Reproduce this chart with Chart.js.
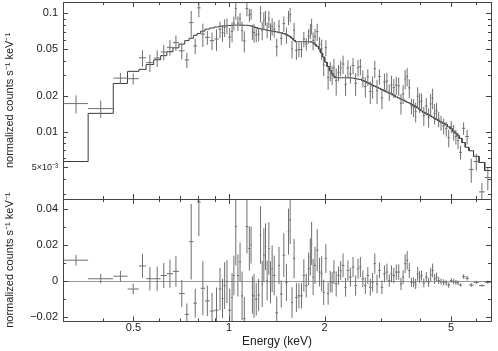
<!DOCTYPE html>
<html>
<head>
<meta charset="utf-8">
<script src="https://cdn.jsdelivr.net/npm/chart.js@4.4.1/dist/chart.umd.min.js"></script>
<style>
  body { margin: 0; background: #fff; }
  #wrap { position: relative; width: 498px; height: 351px; }
  #specCanvas { position: absolute; left: 0; top: 0; }
  #residCanvas { position: absolute; left: 0; top: 180px; }
</style>
</head>
<body>
<div id="wrap">
  <canvas id="specCanvas" width="498" height="200"></canvas>
  <canvas id="residCanvas" width="498" height="171"></canvas>
</div>
<script>
// channel grouping (keV), one more edge than bins
const binEdges = [
  0.302, 0.360, 0.432, 0.479, 0.520, 0.548, 0.579, 0.609, 0.637, 0.666,
  0.695, 0.725, 0.748, 0.772, 0.793, 0.814, 0.840, 0.869, 0.899, 0.927,
  0.946, 0.961, 0.976, 0.994, 1.015, 1.029, 1.042, 1.058, 1.075, 1.091,
  1.107, 1.127, 1.150, 1.167, 1.179, 1.190, 1.207, 1.229, 1.249, 1.264,
  1.279, 1.295, 1.310, 1.326, 1.343, 1.358, 1.375, 1.400, 1.426, 1.447,
  1.473, 1.502, 1.530, 1.548, 1.567, 1.590, 1.615, 1.644, 1.675, 1.706,
  1.734, 1.766, 1.794, 1.811, 1.828, 1.851, 1.878, 1.912, 1.943, 1.971,
  2.001, 2.034, 2.068, 2.098, 2.124, 2.155, 2.194, 2.229, 2.263, 2.308,
  2.347, 2.388, 2.433, 2.481, 2.526, 2.569, 2.614, 2.662, 2.710, 2.760,
  2.810, 2.853, 2.900, 2.948, 3.002, 3.057, 3.113, 3.169, 3.221, 3.272,
  3.332, 3.393, 3.450, 3.506, 3.560, 3.611, 3.664, 3.723, 3.783, 3.841,
  3.897, 3.954, 4.008, 4.067, 4.142, 4.217, 4.282, 4.344, 4.406, 4.470,
  4.535, 4.608, 4.693, 4.786, 4.872, 4.962, 5.053, 5.137, 5.220, 5.300,
  5.412, 5.543, 5.693, 5.886, 6.125, 6.383, 6.676
];

// folded model, counts s-1 keV-1
const model = [
  0.0056, 0.0143, 0.0256, 0.0324, 0.0337, 0.0370, 0.0406, 0.0440, 0.0475, 0.0512,
  0.0551, 0.0589, 0.0617, 0.0654, 0.0676, 0.0709, 0.0737, 0.0754, 0.0769, 0.0778,
  0.0783, 0.0786, 0.0789, 0.0792, 0.0795, 0.0797, 0.0797, 0.0797, 0.0797, 0.0797,
  0.0795, 0.0794, 0.0789, 0.0784, 0.0778, 0.0771, 0.0759, 0.0747, 0.0741, 0.0737,
  0.0732, 0.0728, 0.0723, 0.0718, 0.0714, 0.0710, 0.0705, 0.0698, 0.0692, 0.0687,
  0.0676, 0.0663, 0.0648, 0.0637, 0.0619, 0.0595, 0.0576, 0.0576, 0.0576, 0.0576,
  0.0576, 0.0576, 0.0576, 0.0573, 0.0566, 0.0550, 0.0529, 0.0500, 0.0463, 0.0428,
  0.0388, 0.0356, 0.0329, 0.0311, 0.0296, 0.0287, 0.0286, 0.0286, 0.0286, 0.0286,
  0.0286, 0.0285, 0.0284, 0.0281, 0.0279, 0.0277, 0.0271, 0.0265, 0.0259, 0.0253,
  0.0248, 0.0243, 0.0238, 0.0233, 0.0227, 0.0222, 0.0217, 0.0212, 0.0209, 0.0204,
  0.0197, 0.0193, 0.0189, 0.0186, 0.0182, 0.0178, 0.0175, 0.0171, 0.0167, 0.0163,
  0.0159, 0.0155, 0.0150, 0.0146, 0.0142, 0.0139, 0.0136, 0.0133, 0.0130, 0.0127,
  0.0124, 0.0121, 0.0118, 0.0115, 0.0110, 0.0106, 0.0101, 0.0097, 0.0093, 0.0088,
  0.0081, 0.0074, 0.0069, 0.0062, 0.0055, 0.0047
];

// observed rate
const rate = [
  0.0173, 0.0157, 0.0284, 0.0281, 0.0422, 0.0384, 0.0420, 0.0472, 0.0517, 0.0567,
  0.0483, 0.0405, 0.0837, 0.0532, 0.1116, 0.0670, 0.0628, 0.0589, 0.0608, 0.0735,
  0.0687, 0.0762, 0.0787, 0.0631, 0.0705, 0.0829, 0.1101, 0.0829, 0.0904, 0.0716,
  0.0587, 0.1098, 0.0971, 0.0985, 0.0701, 0.0690, 0.0659, 0.0670, 0.0998, 0.0722,
  0.0877, 0.0920, 0.0727, 0.0900, 0.0708, 0.0779, 0.0737, 0.0523, 0.0780, 0.0616,
  0.0821, 0.0657, 0.0924, 0.0979, 0.0501, 0.0721, 0.0486, 0.0495, 0.0495, 0.0608,
  0.0552, 0.0645, 0.0711, 0.0783, 0.0589, 0.0638, 0.0702, 0.0551, 0.0504, 0.0366,
  0.0514, 0.0288, 0.0327, 0.0305, 0.0347, 0.0272, 0.0318, 0.0346, 0.0374, 0.0252,
  0.0346, 0.0308, 0.0363, 0.0257, 0.0348, 0.0356, 0.0284, 0.0241, 0.0291, 0.0219,
  0.0242, 0.0341, 0.0223, 0.0293, 0.0193, 0.0263, 0.0268, 0.0216, 0.0250, 0.0236,
  0.0248, 0.0244, 0.0174, 0.0209, 0.0280, 0.0294, 0.0235, 0.0165, 0.0161, 0.0148,
  0.0200, 0.0178, 0.0182, 0.0137, 0.0165, 0.0133, 0.0172, 0.0193, 0.0143, 0.0150,
  0.0128, 0.0119, 0.0112, 0.0106, 0.0089, 0.0110, 0.0099, 0.0091, 0.0084, 0.0067,
  0.0107, 0.0091, 0.0048, 0.0056, 0.0031, 0.0041
];

// 1 sigma errors (same for both panels)
const rateErr = [
  0.0030, 0.0026, 0.0030, 0.0030, 0.0068, 0.0065, 0.0067, 0.0070, 0.0078, 0.0085,
  0.0075, 0.0060, 0.0210, 0.0080, 0.0190, 0.0150, 0.0085, 0.0100, 0.0126, 0.0117,
  0.0110, 0.0130, 0.0120, 0.0120, 0.0135, 0.0110, 0.0216, 0.0117, 0.0107, 0.0135,
  0.0120, 0.0150, 0.0122, 0.0103, 0.0103, 0.0122, 0.0090, 0.0090, 0.0160, 0.0128,
  0.0150, 0.0130, 0.0110, 0.0146, 0.0117, 0.0130, 0.0110, 0.0090, 0.0103, 0.0075,
  0.0122, 0.0103, 0.0128, 0.0135, 0.0085, 0.0110, 0.0080, 0.0070, 0.0070, 0.0090,
  0.0066, 0.0090, 0.0103, 0.0120, 0.0100, 0.0103, 0.0117, 0.0080, 0.0098, 0.0070,
  0.0080, 0.0062, 0.0060, 0.0056, 0.0066, 0.0070, 0.0050, 0.0052, 0.0066, 0.0052,
  0.0056, 0.0052, 0.0056, 0.0056, 0.0056, 0.0056, 0.0047, 0.0047, 0.0047, 0.0047,
  0.0052, 0.0056, 0.0052, 0.0043, 0.0038, 0.0047, 0.0047, 0.0034, 0.0047, 0.0043,
  0.0043, 0.0043, 0.0034, 0.0038, 0.0052, 0.0052, 0.0043, 0.0025, 0.0028, 0.0028,
  0.0038, 0.0034, 0.0028, 0.0025, 0.0028, 0.0025, 0.0038, 0.0038, 0.0028, 0.0025,
  0.0019, 0.0017, 0.0017, 0.0015, 0.0015, 0.0013, 0.0015, 0.0013, 0.0013, 0.0009,
  0.0013, 0.0013, 0.0011, 0.0009, 0.0006, 0.0009
];

// data - model
const resid = [
  0.0117, 0.0014, 0.0028, -0.0043, 0.0085, 0.0014, 0.0014, 0.0032, 0.0042, 0.0055,
  -0.0068, -0.0184, 0.0220, -0.0122, 0.0440, -0.0039, -0.0109, -0.0165, -0.0161, -0.0043,
  -0.0096, -0.0024, -0.0002, -0.0161, -0.0090, 0.0032, 0.0304, 0.0032, 0.0107, -0.0081,
  -0.0208, 0.0304, 0.0182, 0.0201, -0.0077, -0.0081, -0.0100, -0.0077, 0.0257, -0.0015,
  0.0145, 0.0192, 0.0004, 0.0182, -0.0006, 0.0069, 0.0032, -0.0175, 0.0088, -0.0071,
  0.0145, -0.0006, 0.0276, 0.0342, -0.0118, 0.0126, -0.0090, -0.0081, -0.0081, 0.0032,
  -0.0024, 0.0069, 0.0135, 0.0210, 0.0023, 0.0088, 0.0173, 0.0051, 0.0041, -0.0062,
  0.0126, -0.0068, -0.0002, -0.0006, 0.0051, -0.0015, 0.0032, 0.0060, 0.0088, -0.0034,
  0.0060, 0.0023, 0.0079, -0.0024, 0.0069, 0.0079, 0.0013, -0.0024, 0.0032, -0.0034,
  -0.0006, 0.0098, -0.0015, 0.0060, -0.0034, 0.0041, 0.0051, 0.0004, 0.0041, 0.0032,
  0.0051, 0.0051, -0.0015, 0.0023, 0.0098, 0.0116, 0.0060, -0.0006, -0.0006, -0.0015,
  0.0041, 0.0023, 0.0032, -0.0009, 0.0023, -0.0006, 0.0036, 0.0060, 0.0013, 0.0023,
  0.0004, -0.0002, -0.0006, -0.0009, -0.0021, 0.0004, -0.0002, -0.0006, -0.0009, -0.0021,
  0.0026, 0.0017, -0.0021, -0.0006, -0.0024, -0.0006
];

// axes
const xTicks = [0.4, 0.5, 0.6, 0.7, 0.8, 0.9, 1, 2, 3, 4, 5, 6];
const xLabels = [0.5, 1, 2, 5];
const yTopTicks = [0.003, 0.004, 0.005, 0.006, 0.007, 0.008, 0.009, 0.01,
  0.02, 0.03, 0.04, 0.05, 0.06, 0.07, 0.08, 0.09, 0.1];
const yTopLabelValues = [0.005, 0.01, 0.02, 0.05, 0.1];
const yTopLabelText = ['5×10⁻³', '0.01', '0.02', '0.05', '0.1'];
const yBotTicks = [-0.02, -0.01, 0, 0.01, 0.02, 0.03, 0.04];
const yBotLabelValues = [-0.02, 0, 0.02, 0.04];
const yBotLabelText = ['\u22120.02', '0', '0.02', '0.04'];

const X_MIN = 0.302, X_MAX = 6.68;
const FONT = 'Liberation Sans, Arial, sans-serif';
const TEXT = '#222';
const FRAME = '#444';
const DATA_COLOR = '#6f6f6f';
const MODEL_COLOR = '#3a3a3a';
const YLABEL = 'normalized counts s⁻¹ keV⁻¹';

const centers = model.map((_, i) => Math.sqrt(binEdges[i] * binEdges[i + 1]));

function crossPoints(vals, errs, floor) {
  const pts = [];
  vals.forEach((v, i) => {
    pts.push({ x: binEdges[i], y: v }, { x: binEdges[i + 1], y: v }, { x: centers[i], y: null });
    pts.push({ x: centers[i], y: Math.max(v - errs[i], floor) }, { x: centers[i], y: v + errs[i] },
      { x: centers[i], y: null });
  });
  return pts;
}

const modelSteps = [];
model.forEach((m, i) => { modelSteps.push({ x: binEdges[i], y: m }, { x: binEdges[i + 1], y: m }); });

// inward PGPLOT-style ticks + box
const frameTicks = {
  id: 'frameTicks',
  beforeDatasetsDraw(chart, args, opts) {
    if (opts.zeroLine == null) return;
    const { ctx, chartArea: a, scales } = chart;
    const py = Math.round(scales.y.getPixelForValue(opts.zeroLine)) + 0.5;
    ctx.save();
    ctx.strokeStyle = '#9a9a9a';
    ctx.lineWidth = 1;
    ctx.beginPath();
    ctx.moveTo(a.left, py); ctx.lineTo(a.right, py);
    ctx.stroke();
    ctx.restore();
  },
  afterDraw(chart, args, opts) {
    const { ctx, chartArea: a, scales } = chart;
    ctx.save();
    ctx.strokeStyle = FRAME;
    ctx.lineWidth = 1;
    ctx.beginPath();
    opts.xTicks.forEach(v => {
      const px = Math.round(scales.x.getPixelForValue(v)) + 0.5;
      const len = opts.xMajor.includes(v) ? 5 : 3;
      ctx.moveTo(px, a.top); ctx.lineTo(px, a.top + len);
      ctx.moveTo(px, a.bottom); ctx.lineTo(px, a.bottom - len);
    });
    opts.yTicks.forEach(v => {
      const py = Math.round(scales.y.getPixelForValue(v)) + 0.5;
      const len = opts.yMajor.includes(v) ? 5 : 3;
      ctx.moveTo(a.left, py); ctx.lineTo(a.left + len, py);
      ctx.moveTo(a.right, py); ctx.lineTo(a.right - len, py);
    });
    ctx.stroke();
    ctx.strokeRect(Math.round(a.left) + 0.5, Math.round(a.top) + 0.5,
      Math.round(a.right - a.left), Math.round(a.bottom - a.top));
    ctx.restore();
  }
};

const common = {
  responsive: false,
  animation: false,
  events: [],
  plugins: { legend: { display: false }, tooltip: { enabled: false } },
  elements: { point: { radius: 0 }, line: { borderWidth: 1, tension: 0 } }
};

// keep chart area fixed: no label overhang padding
function fitWidth(s) {
  s.width = 63;
  s.paddingTop = 0;
  s.paddingBottom = 0;
}

function yAxisTitle() {
  return { display: true, text: YLABEL, color: TEXT, font: { family: FONT, size: 11 },
    padding: { top: 3, bottom: 0 } };
}

// top panel: spectrum + model
new Chart(document.getElementById('specCanvas'), {
  type: 'line',
  data: {
    datasets: [
      { data: crossPoints(rate, rateErr, 0.001), borderColor: DATA_COLOR },
      { data: modelSteps, borderColor: MODEL_COLOR }
    ]
  },
  options: {
    ...common,
    layout: { padding: { top: 2, right: 7, bottom: 1, left: 0 } },
    plugins: {
      ...common.plugins,
      frameTicks: { xTicks, xMajor: xLabels, yTicks: yTopTicks, yMajor: yTopLabelValues }
    },
    scales: {
      x: { type: 'logarithmic', min: X_MIN, max: X_MAX, display: false },
      y: {
        type: 'logarithmic', min: 0.0027, max: 0.125,
        grid: { display: false, drawTicks: false }, border: { display: false },
        afterFit: fitWidth,
        afterBuildTicks: s => { s.ticks = yTopTicks.map(v => ({ value: v })); },
        ticks: {
          autoSkip: false, padding: 5, color: TEXT,
          font: c => ({ family: FONT, size: c.tick && c.tick.value === 0.005 ? 9 : 11 }),
          callback: v => {
            const k = yTopLabelValues.indexOf(v);
            return k < 0 ? '' : yTopLabelText[k];
          }
        },
        title: yAxisTitle()
      }
    }
  },
  plugins: [frameTicks]
});

// bottom panel: residuals
new Chart(document.getElementById('residCanvas'), {
  type: 'line',
  data: {
    datasets: [
      { data: crossPoints(resid, rateErr, -1), borderColor: DATA_COLOR }
    ]
  },
  options: {
    ...common,
    layout: { padding: { top: 19, right: 7, bottom: 2, left: 0 } },
    plugins: {
      ...common.plugins,
      frameTicks: { xTicks, xMajor: xLabels, yTicks: yBotTicks, yMajor: yBotLabelValues, zeroLine: 0 }
    },
    scales: {
      x: {
        type: 'logarithmic', min: X_MIN, max: X_MAX,
        grid: { display: false, drawTicks: false }, border: { display: false },
        afterFit: s => { s.paddingLeft = 0; s.paddingRight = 0; },
        afterBuildTicks: s => { s.ticks = xTicks.map(v => ({ value: v })); },
        ticks: {
          autoSkip: false, maxRotation: 0, padding: 0, color: TEXT,
          font: { family: FONT, size: 11 },
          callback: v => (xLabels.includes(v) ? String(v) : '')
        },
        title: { display: true, text: 'Energy (keV)', color: TEXT, font: { family: FONT, size: 12 },
          padding: { top: 0, bottom: 0 } }
      },
      y: {
        type: 'linear', min: -0.0223, max: 0.0457,
        grid: { display: false, drawTicks: false }, border: { display: false },
        afterFit: fitWidth,
        afterBuildTicks: s => { s.ticks = yBotTicks.map(v => ({ value: v })); },
        ticks: {
          autoSkip: false, padding: 5, color: TEXT, font: { family: FONT, size: 11 },
          callback: v => {
            const k = yBotLabelValues.findIndex(t => Math.abs(t - v) < 1e-9);
            return k < 0 ? '' : yBotLabelText[k];
          }
        },
        title: yAxisTitle()
      }
    }
  },
  plugins: [frameTicks]
});
</script>
</body>
</html>
